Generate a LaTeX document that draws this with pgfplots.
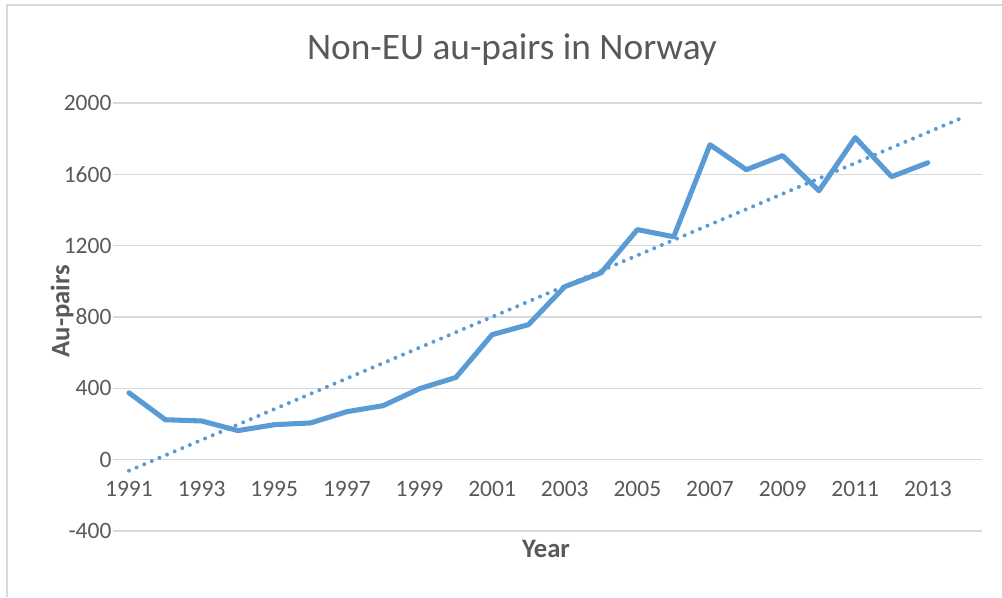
\documentclass[border=0pt]{standalone}
\usepackage{pgfplots}
\pgfplotsset{compat=1.18}
\usepackage{fontspec}
\setmainfont{Carlito}
\definecolor{xblue}{RGB}{91,155,213}
\definecolor{xtext}{RGB}{89,89,89}
\definecolor{xgrid}{RGB}{217,217,217}
\begin{document}
\begin{tikzpicture}[x=0.75pt,y=0.75pt]
\useasboundingbox (0,0) rectangle (1002,597);
\draw[xgrid, line width=1.2pt] (7,0) -- (7,592) -- (1010,592);
\node[text=xtext, font=\fontsize{28}{30}\selectfont] at (512,547) {Non-EU au-pairs in Norway};
\begin{axis}[
  at={(84.75pt,49.5pt)}, anchor=south west,
  width=651.75pt, height=321pt, scale only axis,
  xmin=1990.56, xmax=2014.49, ymin=-400, ymax=2000,
  axis x line*=middle, axis y line*=left,
  x axis line style={xgrid, line width=0.9pt, -},
  y axis line style={draw=none},
  xtick={1991,1993,...,2013},
  ytick={-400,0,...,2000},
  major tick length=0pt,
  ymajorgrids, grid style={xgrid, line width=0.9pt},
  /pgf/number format/assume math mode=true,
  /pgf/number format/.cd, 1000 sep={}, /pgfplots/.cd,
  tick label style={text=xtext, font=\fontsize{17.6}{19}\selectfont},
  xticklabel style={inner sep=0pt, anchor=north, yshift=-16pt},
  yticklabel style={inner sep=0pt, anchor=east, xshift=-1pt},
  clip=false,
]
\addplot[xblue, line width=3.8pt, line join=round, line cap=round] coordinates {
(1991,375) (1992,224) (1993,217) (1994,163) (1995,196) (1996,206)
(1997,269) (1998,303) (1999,398) (2000,461) (2001,701) (2002,757)
(2003,970) (2004,1048) (2005,1290) (2006,1250) (2007,1766) (2008,1626)
(2009,1705) (2010,1508) (2011,1806) (2012,1587) (2013,1665)
};
\addplot[xblue, line width=3pt, line cap=round, dash pattern=on 0pt off 6.2pt] coordinates {
(1991,-62) (2014,1922)
};
\end{axis}
\node[text=xtext, font=\bfseries\fontsize{20}{22}\selectfont] at (546,48) {Year};
\node[text=xtext, font=\bfseries\fontsize{20}{22}\selectfont, rotate=90] at (62,286) {Au-pairs};
\end{tikzpicture}
\end{document}
